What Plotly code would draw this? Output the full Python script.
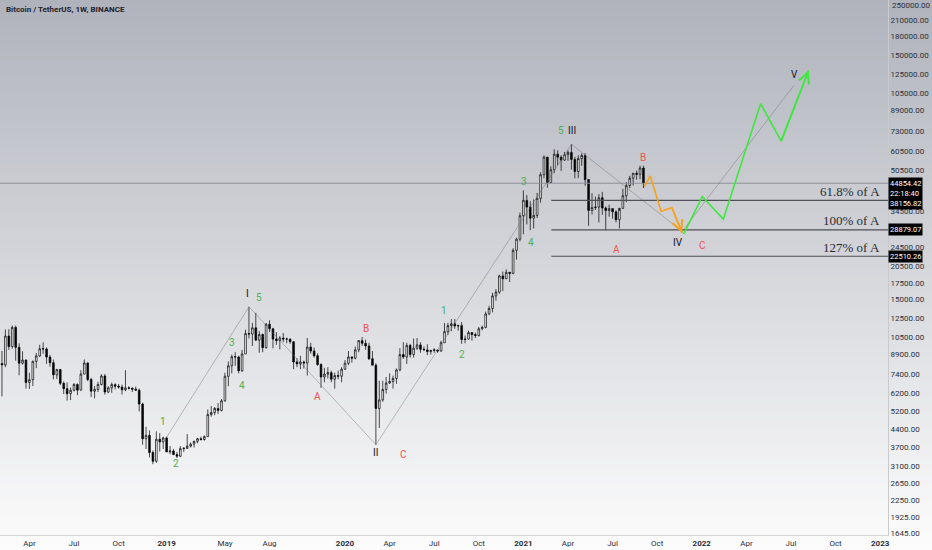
import numpy as np
import pandas as pd
import plotly.graph_objects as go

# weekly BTC/USDT candles (Binance, week opens on Monday)
weeks = pd.date_range("2018-01-29", "2021-09-06", freq="7D")

open_ = [11200, 8180, 8070, 10600, 9600, 11500, 9530, 8200, 8450, 6840,
         7020, 8350, 8790, 9400, 9380, 8690, 8240, 7350, 7720, 6780,
         6450, 6150, 6350, 6710, 6360, 7400, 8220, 7030, 6300, 6400,
         6710, 7270, 6250, 6500, 6700, 6600, 6550, 6380, 6500, 6480,
         6420, 6360, 5580, 4020, 4150, 3530, 3250, 4000, 3900,
         # 2019
         4050, 3550, 3580, 3460, 3410, 3660, 3670, 3750, 3820, 3920,
         4020, 3990, 4100, 5050, 5150, 5350, 5250, 5750, 7250, 8000,
         8720, 8700, 7640, 8950, 10850, 10800, 11450, 10200, 10750, 9500,
         11850, 11350, 10300, 10150, 10400, 10300, 10300, 10050, 8300, 8150,
         8300, 8220, 9550, 9200, 8800, 8100, 7200, 7400, 7500, 7050,
         7300, 7250,
         # 2020
         7750, 8200, 8700, 8600, 9300, 10150, 9900, 9650, 8550, 8050,
         5350, 5800, 6400, 6800, 6900, 7100, 7700, 8900, 8700, 9700,
         8900, 9450, 9750, 9350, 9300, 9150, 9250, 9300, 9200, 9950,
         11050, 11700, 11900, 11650, 11700, 10250, 10300, 10950, 10750, 10650,
         11350, 11500, 13050, 13750, 15480, 16050, 18700, 18200, 19350, 19150,
         23800, 26450,
         # 2021
         33000, 38150, 35800, 32250, 33100, 38900, 48600, 57400, 45150, 50950,
         59000, 57350, 55800, 58700, 60000, 56150, 50100, 56600, 58250, 46450,
         34700, 35650, 35800, 39100, 35500, 34650, 35300, 34250, 31800, 35400,
         39850, 43850, 47050, 49300, 48800, 51750]

high = [11700, 9200, 11270, 11300, 11700, 11700, 9900, 9180, 8500, 7500,
        8400, 9030, 9760, 9990, 9520, 8880, 8490, 7780, 7770, 6900,
        6840, 6520, 6800, 6780, 7680, 8500, 8260, 7150, 6620, 6880,
        7400, 7410, 6600, 6830, 6780, 6740, 6700, 7680, 6600, 6520,
        6580, 6450, 5650, 4500, 4350, 3600, 4310, 4240, 4100,
        # 2019
        4100, 3750, 3650, 3550, 3750, 3720, 4200, 3880, 3950, 4050,
        4100, 4150, 5300, 5470, 5420, 5630, 5850, 7500, 8350, 8900,
        9100, 8800, 9300, 11250, 13970, 12000, 13200, 11100, 10850, 12000,
        12300, 11450, 11000, 10600, 10900, 10450, 10350, 10050, 8600, 8800,
        8400, 10400, 9950, 9500, 9000, 8200, 7850, 7900, 7650, 7500,
        7650, 7900,
        # 2020
        8450, 9200, 8750, 9600, 10200, 10500, 10250, 9950, 9200, 8200,
        6950, 6950, 7200, 7450, 7300, 7800, 9450, 10000, 9950, 9850,
        10350, 10400, 10000, 9600, 9800, 9300, 9450, 9300, 10150, 12000,
        12000, 12450, 12450, 11800, 12100, 10650, 11150, 10950, 10950, 11550,
        11700, 13350, 14100, 15950, 16500, 18900, 19500, 19900, 19400, 24300,
        26800, 34000,
        # 2021
        41950, 40100, 37850, 38500, 40950, 49700, 58350, 57550, 52650, 61800,
        61200, 58400, 60250, 61200, 64850, 57550, 58450, 59500, 59600, 46650,
        40850, 39500, 40500, 41350, 36000, 36650, 35300, 34700, 34500, 42600,
        45300, 48150, 49050, 50500, 52950, 52900]

low = [7650, 6000, 7900, 9300, 9400, 8400, 7320, 8100, 6450, 6430,
       6610, 7830, 8700, 8960, 8150, 7930, 7040, 7060, 6660, 6130,
       5760, 5790, 6280, 6070, 6330, 7400, 6920, 5960, 5880, 6250,
       6650, 6100, 6180, 6200, 6400, 6450, 6100, 6300, 6400, 6250,
       6340, 5200, 3800, 3650, 3370, 3160, 3200, 3560, 3650,
       # 2019
       3550, 3470, 3450, 3350, 3380, 3550, 3650, 3700, 3700, 3850,
       3950, 3950, 4090, 4950, 5020, 5080, 5200, 5700, 6600, 7450,
       8000, 7450, 7550, 8950, 10350, 9650, 10100, 9050, 9100, 9400,
       11000, 9450, 9750, 9350, 10000, 9900, 9850, 7750, 7900, 7750,
       7800, 7300, 8970, 8650, 8000, 6500, 6850, 7100, 6850, 6450,
       7050, 6850,
       # 2020
       7700, 8050, 8250, 8500, 9100, 9650, 9300, 8450, 8050, 3800,
       4450, 5700, 6150, 6750, 6450, 6750, 7600, 8550, 8150, 8650,
       8650, 9300, 9050, 9250, 8850, 8900, 9050, 9050, 9150, 9950,
       10700, 11100, 11350, 11150, 9850, 9900, 10250, 10150, 10400, 10550,
       11200, 11400, 12950, 13250, 14800, 15800, 16200, 18150, 17650, 19000,
       21800, 25900,
       # 2021
       27700, 30400, 28800, 29250, 32300, 37350, 47000, 43000, 45000, 49300,
       53050, 50400, 55450, 55500, 51000, 47000, 47050, 52900, 43800, 30000,
       33400, 34800, 31000, 33300, 28800, 32700, 32100, 31000, 29300, 35200,
       37500, 42850, 43950, 46350, 46550, 42850]

close = [8180, 8070, 10600, 9600, 11500, 9530, 8200, 8450, 6840, 7020,
         8350, 8790, 9400, 9380, 8690, 8240, 7350, 7720, 6780, 6450,
         6150, 6350, 6710, 6360, 7400, 8220, 7030, 6300, 6400, 6710,
         7270, 6250, 6500, 6700, 6600, 6550, 6380, 6500, 6480, 6420,
         6360, 5580, 4020, 4150, 3530, 3250, 4000, 3900, 4050,
         # 2019
         3550, 3580, 3460, 3410, 3660, 3670, 3750, 3820, 3920, 4020,
         3990, 4100, 5050, 5150, 5350, 5250, 5750, 7250, 8000, 8720,
         8700, 7640, 8950, 10850, 10800, 11450, 10200, 10750, 9500, 11850,
         11350, 10300, 10150, 10400, 10300, 10300, 10050, 8300, 8150, 8300,
         8220, 9550, 9200, 8800, 8100, 7200, 7400, 7500, 7050, 7300,
         7250, 7750,
         # 2020
         8200, 8700, 8600, 9300, 10150, 9900, 9650, 8550, 8050, 5350,
         5800, 6400, 6800, 6900, 7100, 7700, 8900, 8700, 9700, 8900,
         9450, 9750, 9350, 9300, 9150, 9250, 9300, 9200, 9950, 11050,
         11700, 11900, 11650, 11700, 10250, 10300, 10950, 10750, 10650, 11350,
         11500, 13050, 13750, 15480, 16050, 18700, 18200, 19350, 19150, 23800,
         26450, 33000,
         # 2021
         38150, 35800, 32250, 33100, 38900, 48600, 57400, 45150, 50950, 59000,
         57350, 55800, 58700, 60000, 56150, 50100, 56600, 58250, 46450, 34700,
         35650, 35800, 39100, 35500, 34650, 35300, 34250, 31800, 35400, 39850,
         43850, 47050, 49300, 48800, 51750, 44854.42]

last_price = 44854.42
countdown = "22:18:40"

# elliott wave pivots (0, I, II, III, IV, V) - thin gray guide line
wave_dates = ["2019-01-07", "2019-06-24", "2020-03-09", "2021-04-12", "2021-11-24", "2022-07-10"]
wave_prices = [4080, 13970, 3800, 64850, 28480, 113000]

# projected paths
orange_dates = ["2021-09-08", "2021-09-20", "2021-10-12", "2021-11-03", "2021-11-24"]
orange_prices = [43470, 48060, 34370, 35680, 28020]
green_dates = ["2021-11-27", "2022-01-04", "2022-02-16", "2022-05-03", "2022-06-14", "2022-08-09"]
green_prices = [27750, 39570, 31960, 95080, 66770, 130130]

# fib extension levels of wave A
fib_names = ["61.8% of A", "100% of A", "127% of A"]
fib_levels = [38156.82, 28879.07, 22510.26]
fib_start = "2021-03-02"

# wave labels
label_text = ["1", "2", "3", "4", "5", "I", "A", "B", "II", "C",
              "1", "2", "3", "4", "5", "III", "A", "B", "IV", "C", "V"]
label_date = ["2018-12-31", "2019-01-27", "2019-05-20", "2019-06-10", "2019-07-15",
              "2019-06-22", "2019-11-11", "2020-02-17", "2020-03-09", "2020-05-05",
              "2020-07-27", "2020-09-01", "2021-01-06", "2021-01-20", "2021-03-22",
              "2021-04-13", "2021-07-14", "2021-09-06", "2021-11-16", "2022-01-05",
              "2022-07-11"]
label_price = [4730, 3178, 9965, 6634, 15210, 15850, 5983, 11370, 3525, 3469,
               13550, 8878, 45560, 25690, 73570, 73570, 23975, 57080, 25750, 24900,
               124870]
label_kind = ["g", "g", "g", "g", "g", "k", "r", "r", "k", "r",
              "g", "g", "g", "g", "g", "k", "r", "r", "k", "r", "k"]

# axes
price_ticks = [1645, 1925, 2250, 2650, 3100, 3700, 4400, 5200, 6200, 7400,
               8900, 10500, 12500, 15000, 17500, 20500, 24500, 34500, 50500,
               60500, 73000, 89000, 105000, 125000, 150000, 180000, 210000]
top_tick = 250000  # sits right at the top edge of the scale
date_ticks = ["2018-04-02", "2018-07-02", "2018-10-01", "2019-01-07", "2019-05-06",
              "2019-08-05", "2020-01-06", "2020-04-06", "2020-07-06", "2020-10-05",
              "2021-01-04", "2021-04-05", "2021-07-05", "2021-10-04", "2022-01-03",
              "2022-04-04", "2022-07-04", "2022-10-03", "2023-01-02"]
date_labels = ["Apr", "Jul", "Oct", "<b>2019</b>", "May", "Aug", "<b>2020</b>", "Apr",
               "Jul", "Oct", "<b>2021</b>", "Apr", "Jul", "Oct", "<b>2022</b>", "Apr",
               "Jul", "Oct", "<b>2023</b>"]

X0, X1 = "2018-02-01", "2023-01-18"
Y0, Y1 = 1620, 253000
W, H = 932, 550
ML, MR, MT, MB = 0, 44, 0, 15

colors = {"g": "#4caf50", "r": "#ef5350", "k": "#131722"}
FONT = "Roboto"

fig = go.Figure()

# current price line
fig.add_trace(go.Scatter(x=[X0, X1], y=[last_price, last_price], mode="lines",
                         line=dict(color="#8e9199", width=1), hoverinfo="skip"))

# wave guide line
fig.add_trace(go.Scatter(x=wave_dates, y=wave_prices, mode="lines",
                         line=dict(color="rgba(110,110,115,0.55)", width=0.8), hoverinfo="skip"))

# fib lines
for lvl in fib_levels:
    fig.add_trace(go.Scatter(x=[fib_start, X1], y=[lvl, lvl], mode="lines",
                             line=dict(color="#4d4f55", width=1.2), hoverinfo="skip"))

fig.add_trace(go.Candlestick(
    x=weeks, open=open_, high=high, low=low, close=close,
    increasing=dict(line=dict(color="#000000", width=0.7), fillcolor="#ffffff"),
    decreasing=dict(line=dict(color="#000000", width=0.7), fillcolor="#000000"),
    whiskerwidth=0, hoverinfo="skip"))

fig.add_trace(go.Scatter(x=orange_dates, y=orange_prices, mode="lines",
                         line=dict(color="#f7a21b", width=1.6), hoverinfo="skip"))
fig.add_trace(go.Scatter(x=green_dates, y=green_prices, mode="lines",
                         line=dict(color="#3ee83e", width=1.6), hoverinfo="skip"))

annotations = []

# arrow heads on the projected paths
for dates, prices, col in [(orange_dates, orange_prices, "#f7a21b"),
                           (green_dates, green_prices, "#3ee83e")]:
    annotations.append(dict(x=dates[-1], y=np.log10(prices[-1]), ax=dates[-2],
                            ay=np.log10(prices[-2]), xref="x", yref="y", axref="x",
                            ayref="y", showarrow=True, arrowhead=5, arrowsize=1.3,
                            arrowwidth=1.6, arrowcolor=col, text=""))

for t, d, p, k in zip(label_text, label_date, label_price, label_kind):
    annotations.append(dict(x=d, y=np.log10(p), text=t, showarrow=False,
                            font=dict(family=FONT, size=10, color=colors[k])))

for name, lvl in zip(fib_names, fib_levels):
    annotations.append(dict(x=882 / (W - MR), xref="paper", y=np.log10(lvl), yref="y",
                            text=name, showarrow=False, xanchor="right", yshift=9,
                            font=dict(family="Liberation Serif", size=13, color="#2a2b30")))

# price tags on the right scale
tag_font = dict(family=FONT, size=7.5, color="#ffffff")
annotations.append(dict(x=1, xref="paper", y=np.log10(last_price), yref="y",
                        text=f"{last_price:.2f}<br>{countdown}<br>{fib_levels[0]:.2f}",
                        showarrow=False, xanchor="left", yanchor="top", yshift=6,
                        bgcolor="#000000", borderpad=1, font=tag_font, align="left"))
for lvl in fib_levels[1:]:
    annotations.append(dict(x=1, xref="paper", y=np.log10(lvl), yref="y",
                            text=f"{lvl:.2f}", showarrow=False, xanchor="left",
                            bgcolor="#000000", borderpad=1, font=tag_font))

annotations.append(dict(x=1, xref="paper", y=np.log10(top_tick), yref="y",
                        text=f"{top_tick:.2f}", showarrow=False, xanchor="left",
                        xshift=2, yshift=-4, font=dict(family=FONT, size=8, color="#2a2e39")))

annotations.append(dict(x=0.004, y=1, xref="paper", yref="paper", xanchor="left",
                        yanchor="top", yshift=-3, showarrow=False,
                        text="<b>Bitcoin / TetherUS, 1W, BINANCE</b>",
                        font=dict(family=FONT, size=8, color="#1e222d")))

# gradient background (gray at the top, white at the bottom)
top = np.array([176, 179, 188])
bot = np.array([253, 253, 253])
n = 110
shapes = []
plot_h = H - MT - MB
for i in range(n):
    p0 = H * i / n
    p1 = H * (i + 1) / n
    c = top + (bot - top) * (i + 0.5) / n
    shapes.append(dict(type="rect", xref="paper", yref="paper", layer="below",
                       x0=0, x1=W / (W - MR) + 0.01,
                       y0=(plot_h - p1 + MT) / plot_h, y1=(plot_h - p0 + MT) / plot_h + 0.001,
                       line=dict(width=0),
                       fillcolor=f"rgb({int(c[0])},{int(c[1])},{int(c[2])})"))

fig.update_layout(
    width=W, height=H,
    margin=dict(l=ML, r=MR, t=MT, b=MB),
    paper_bgcolor="#ffffff", plot_bgcolor="rgba(0,0,0,0)",
    showlegend=False, hovermode=False,
    shapes=shapes, annotations=annotations,
    font=dict(family=FONT, size=8, color="#2a2e39"),
    xaxis=dict(type="date", range=[X0, X1], tickvals=date_ticks, ticktext=date_labels,
               showgrid=False, zeroline=False, showline=True, linecolor="#d4d5d9",
               ticks="", rangeslider=dict(visible=False),
               tickfont=dict(family=FONT, size=8, color="#2a2e39")),
    yaxis=dict(type="log", side="right", range=[np.log10(Y0), np.log10(Y1)],
               tickvals=price_ticks, tickformat=".2f", showgrid=False, zeroline=False,
               showline=True, linecolor="#c9cace", ticks="",
               tickfont=dict(family=FONT, size=8, color="#2a2e39")),
)

fig.write_html("out.html", config={"displayModeBar": False},
               post_script="document.body.style.margin='0';")
